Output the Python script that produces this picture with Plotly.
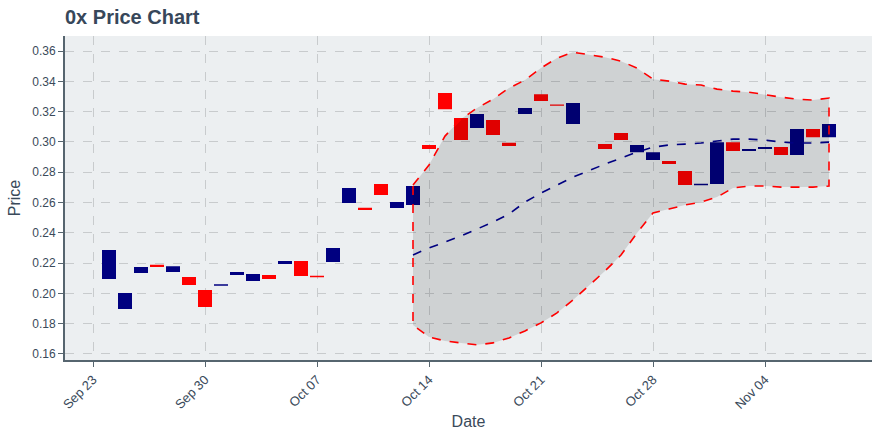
import plotly.graph_objects as go

# ---- candle data ----
dates = [
    "2019-09-24", "2019-09-25", "2019-09-26", "2019-09-27", "2019-09-28", "2019-09-29", "2019-09-30",
    "2019-10-01", "2019-10-02", "2019-10-03", "2019-10-04", "2019-10-05", "2019-10-06", "2019-10-07",
    "2019-10-08", "2019-10-09", "2019-10-10", "2019-10-11", "2019-10-12", "2019-10-13", "2019-10-14",
    "2019-10-15", "2019-10-16", "2019-10-17", "2019-10-18", "2019-10-19", "2019-10-20", "2019-10-21",
    "2019-10-22", "2019-10-23", "2019-10-25", "2019-10-26", "2019-10-27", "2019-10-28", "2019-10-29",
    "2019-10-30", "2019-10-31", "2019-11-01", "2019-11-02", "2019-11-03", "2019-11-04", "2019-11-05",
    "2019-11-06", "2019-11-07", "2019-11-08",
]
opens = [
    0.2095, 0.1897, 0.2135, 0.2189, 0.2141, 0.2108, 0.2022,
    0.2050, 0.2121, 0.2082, 0.2121, 0.2194, 0.2214, 0.2116,
    0.2207, 0.2597, 0.2565, 0.2722, 0.2564, 0.2584, 0.2980,
    0.3323, 0.3158, 0.3092, 0.3145, 0.2995, 0.3184, 0.3316,
    0.3248, 0.3118, 0.2986, 0.3059, 0.2933, 0.2881, 0.2875,
    0.2808, 0.2714, 0.2722, 0.2999, 0.2940, 0.2953, 0.2967,
    0.2914, 0.3085, 0.3032,
]
closes = [
    0.2287, 0.2003, 0.2174, 0.2174, 0.2180, 0.2055, 0.1910,
    0.2060, 0.2141, 0.2128, 0.2095, 0.2214, 0.2115, 0.2106,
    0.2300, 0.2696, 0.2551, 0.2650, 0.2603, 0.2709, 0.2953,
    0.3217, 0.3013, 0.3184, 0.3046, 0.2974, 0.3224, 0.3270,
    0.3239, 0.3257, 0.2953, 0.3013, 0.2980, 0.2933, 0.2854,
    0.2716, 0.2724, 0.2999, 0.2940, 0.2953, 0.2967, 0.2914,
    0.3085, 0.3032, 0.3118,
]
highs = [max(o, c) for o, c in zip(opens, closes)]
lows = [min(o, c) for o, c in zip(opens, closes)]

# ---- Bollinger band data ----
band_dates = dates[19:]
upper_band = [
    0.2716, 0.2848, 0.3039, 0.3151, 0.3224, 0.3283, 0.3356, 0.3409, 0.3488, 0.3554, 0.3593,
    0.3560, 0.3534, 0.3488, 0.3415, 0.3402, 0.3382, 0.3376, 0.3349, 0.3336, 0.3329, 0.3310,
    0.3296, 0.3283, 0.3277, 0.3290,
]
middle_band = [
    0.2254, 0.2300, 0.2339, 0.2379, 0.2425, 0.2471, 0.2524, 0.2603, 0.2663, 0.2716, 0.2768,
    0.2854, 0.2894, 0.2933, 0.2966, 0.2980, 0.2986, 0.2993, 0.3006, 0.3019, 0.3019, 0.3013,
    0.2999, 0.2993, 0.2993, 0.2999,
]
lower_band = [
    0.1791, 0.1712, 0.1686, 0.1673, 0.1660, 0.1673, 0.1706, 0.1752, 0.1805, 0.1871, 0.1956,
    0.2148, 0.2253, 0.2399, 0.2531, 0.2557, 0.2584, 0.2603, 0.2636, 0.2696, 0.2709, 0.2709,
    0.2702, 0.2702, 0.2702, 0.2709,
]

NAVY = "#000080"
RED = "#ff0000"
TXT = "#3a4a5a"
AXIS = "#56656f"
FONT = "Liberation Sans, Arial, sans-serif"

fig = go.Figure()
fig.add_trace(go.Candlestick(
    x=dates, open=opens, high=highs, low=lows, close=closes,
    increasing=dict(line=dict(color=NAVY, width=0), fillcolor=NAVY),
    decreasing=dict(line=dict(color=RED, width=0), fillcolor=RED),
    whiskerwidth=0, showlegend=False, name="0x",
))
# closed band polygon: upper forward, lower backward, back to start
fig.add_trace(go.Scatter(
    x=band_dates + band_dates[::-1] + band_dates[:1],
    y=upper_band + lower_band[::-1] + upper_band[:1],
    mode="lines", fill="toself", fillcolor="rgba(0,0,0,0.12)",
    line=dict(color=RED, width=1.6, dash="dash"),
    showlegend=False, hoverinfo="skip",
))
fig.add_trace(go.Scatter(
    x=band_dates, y=middle_band, mode="lines",
    line=dict(color=NAVY, width=1.6, dash="dash"),
    showlegend=False,
))

fig.update_layout(
    width=880, height=440,
    margin=dict(l=65, r=8, t=36, b=80),
    paper_bgcolor="white", plot_bgcolor="#eceff1",
    font=dict(family=FONT, color=TXT, size=12),
    title=dict(text="<b>0x Price Chart</b>", x=0, xref="paper", xanchor="left",
               y=0.962, yanchor="middle", font=dict(size=20, color="#37475a", family=FONT)),
    boxgap=0.125, boxgroupgap=0,
    showlegend=False,
)
fig.update_xaxes(
    type="date", automargin=False,
    range=["2019-09-21 06:00", "2019-11-10 16:30"],
    tick0="2019-09-23", dtick=7 * 86400000, tickformat="%b %d",
    tickangle=-45, ticks="outside", ticklen=5, tickcolor=AXIS,
    showline=True, linecolor=AXIS, linewidth=2,
    showgrid=True, gridcolor="#c8cbcd", griddash="dash", gridwidth=1,
    zeroline=False, rangeslider=dict(visible=False),
    title=dict(text="Date", font=dict(size=16, color=TXT), standoff=5),
    tickfont=dict(size=13, color=TXT),
)
fig.update_yaxes(
    automargin=False,
    range=[0.156, 0.370], dtick=0.02, tickformat=".2f",
    ticks="outside", ticklen=5, tickcolor=AXIS,
    showline=True, linecolor=AXIS, linewidth=2,
    showgrid=True, gridcolor="#c8cbcd", griddash="dash", gridwidth=1,
    zeroline=False,
    title=dict(text="Price", font=dict(size=16, color=TXT), standoff=8),
    tickfont=dict(size=12, color=TXT),
)

fig.write_html("out.html")
